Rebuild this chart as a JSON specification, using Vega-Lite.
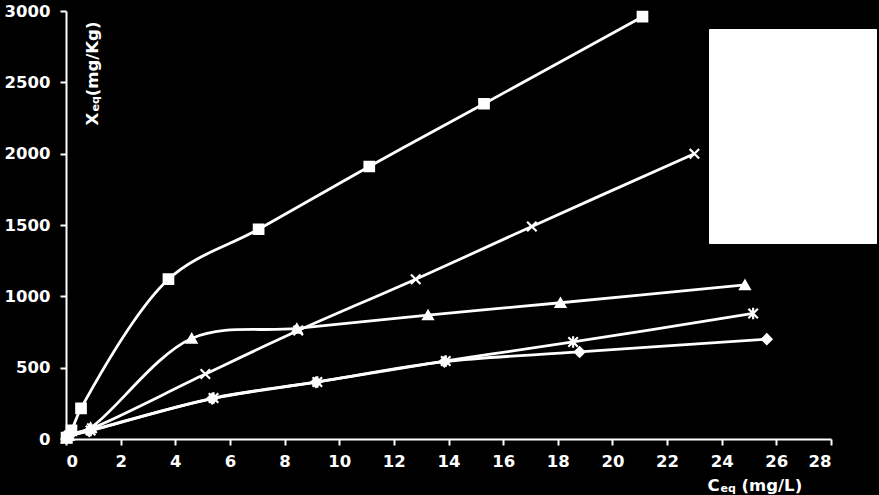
{
  "$schema": "https://vega.github.io/schema/vega-lite/v6.json",
  "width": 765,
  "height": 428,
  "autosize": {"type": "none"},
  "padding": {"left": 66, "top": 11, "right": 48, "bottom": 56},
  "background": "black",
  "config": {
    "view": {"stroke": null},
    "axis": {
      "grid": false,
      "domainColor": "white",
      "domainWidth": 2,
      "tickColor": "white",
      "tickWidth": 2,
      "tickSize": 6,
      "labelColor": "white",
      "labelFont": "DejaVu Sans",
      "labelFontWeight": "bold",
      "labelFontSize": 16.5,
      "titleColor": "white",
      "titleFont": "DejaVu Sans",
      "titleFontWeight": "bold",
      "titleFontSize": 16.5
    }
  },
  "data": {
    "values": [
      {"series": "Series 1", "c": 0.02, "x": 10},
      {"series": "Series 1", "c": 0.2, "x": 60},
      {"series": "Series 1", "c": 0.55, "x": 215},
      {"series": "Series 1", "c": 3.75, "x": 1120},
      {"series": "Series 1", "c": 7.05, "x": 1470},
      {"series": "Series 1", "c": 11.1, "x": 1910},
      {"series": "Series 1", "c": 15.3, "x": 2350},
      {"series": "Series 1", "c": 21.1, "x": 2960},
      {"series": "Series 2", "c": 0.02, "x": 5},
      {"series": "Series 2", "c": 0.1, "x": 25},
      {"series": "Series 2", "c": 0.95, "x": 75},
      {"series": "Series 2", "c": 5.1, "x": 455},
      {"series": "Series 2", "c": 8.5, "x": 760},
      {"series": "Series 2", "c": 12.8, "x": 1120},
      {"series": "Series 2", "c": 17.05, "x": 1490},
      {"series": "Series 2", "c": 23.0, "x": 2000},
      {"series": "Series 3", "c": 0.02, "x": 5},
      {"series": "Series 3", "c": 0.1, "x": 25},
      {"series": "Series 3", "c": 0.9, "x": 80},
      {"series": "Series 3", "c": 4.6, "x": 705},
      {"series": "Series 3", "c": 8.45, "x": 775},
      {"series": "Series 3", "c": 13.25, "x": 868},
      {"series": "Series 3", "c": 18.1, "x": 955},
      {"series": "Series 3", "c": 24.85, "x": 1080},
      {"series": "Series 4", "c": 0.02, "x": 5},
      {"series": "Series 4", "c": 0.1, "x": 20},
      {"series": "Series 4", "c": 0.9, "x": 60},
      {"series": "Series 4", "c": 5.4, "x": 287},
      {"series": "Series 4", "c": 9.2, "x": 400},
      {"series": "Series 4", "c": 13.9, "x": 547},
      {"series": "Series 4", "c": 18.56, "x": 680},
      {"series": "Series 4", "c": 25.15, "x": 880},
      {"series": "Series 5", "c": 0.02, "x": 3},
      {"series": "Series 5", "c": 0.1, "x": 18},
      {"series": "Series 5", "c": 0.85, "x": 55},
      {"series": "Series 5", "c": 5.35, "x": 283},
      {"series": "Series 5", "c": 9.15, "x": 398},
      {"series": "Series 5", "c": 13.85, "x": 542},
      {"series": "Series 5", "c": 18.8, "x": 610},
      {"series": "Series 5", "c": 25.65, "x": 700}
    ]
  },
  "layer": [
    {
      "mark": {"type": "line", "interpolate": "catmull-rom", "color": "white", "strokeWidth": 2.8},
      "encoding": {
        "x": {
          "field": "c", "type": "quantitative",
          "scale": {"domain": [0, 28], "nice": false, "zero": false},
          "axis": {
            "values": [0, 2, 4, 6, 8, 10, 12, 14, 16, 18, 20, 22, 24, 26, 28],
            "format": "d",
            "labelPadding": 8,
            "title": "C\u2003\u2004(mg/L)",
            "titleX": 641, "titleY": 51,
            "titleAlign": "left", "titleBaseline": "alphabetic", "titleAngle": 0
          }
        },
        "y": {
          "field": "x", "type": "quantitative",
          "scale": {"domain": [0, 3000], "nice": false},
          "axis": {
            "values": [0, 500, 1000, 1500, 2000, 2500, 3000],
            "format": "d",
            "labelPadding": 10,
            "title": "X\u2003(mg/Kg)",
            "titleX": 31, "titleY": 114,
            "titleAlign": "left", "titleBaseline": "alphabetic", "titleAngle": -90
          }
        },
        "detail": {"field": "series", "type": "nominal"}
      }
    },
    {
      "mark": {"type": "point", "filled": true, "color": "white", "stroke": "white", "strokeWidth": 2.2, "size": 90, "opacity": 1},
      "encoding": {
        "x": {
          "field": "c", "type": "quantitative",
          "scale": {"domain": [0, 28], "nice": false, "zero": false},
          "axis": {
            "orient": "bottom", "domain": false, "ticks": false, "labels": false,
            "title": "eq", "titleFontSize": 11,
            "titleX": 654, "titleY": 52,
            "titleAlign": "left", "titleBaseline": "alphabetic", "titleAngle": 0
          }
        },
        "y": {
          "field": "x", "type": "quantitative",
          "scale": {"domain": [0, 3000], "nice": false},
          "axis": {
            "orient": "left", "domain": false, "ticks": false, "labels": false,
            "title": "eq", "titleFontSize": 11,
            "titleX": 32, "titleY": 100,
            "titleAlign": "left", "titleBaseline": "alphabetic", "titleAngle": -90
          }
        },
        "shape": {
          "field": "series", "type": "nominal",
          "scale": {
            "domain": ["Series 1", "Series 2", "Series 3", "Series 4", "Series 5"],
            "range": ["square", "M-1,-1L1,1M-1,1L1,-1", "triangle-up", "M-1,-1L1,1M-1,1L1,-1M0,-1.2L0,1.2", "diamond"]
          },
          "legend": {
            "orient": "none", "legendX": 643, "legendY": 18,
            "title": null,
            "fillColor": "white", "strokeColor": "white",
            "padding": 20,
            "symbolFillColor": "white", "symbolStrokeColor": "white", "symbolSize": 100,
            "labelColor": "white", "labelFontSize": 12, "labelFont": "DejaVu Sans",
            "rowPadding": 23.5, "labelOffset": 66
          }
        }
      }
    }
  ],
  "resolve": {"axis": {"x": "independent", "y": "independent"}}
}
